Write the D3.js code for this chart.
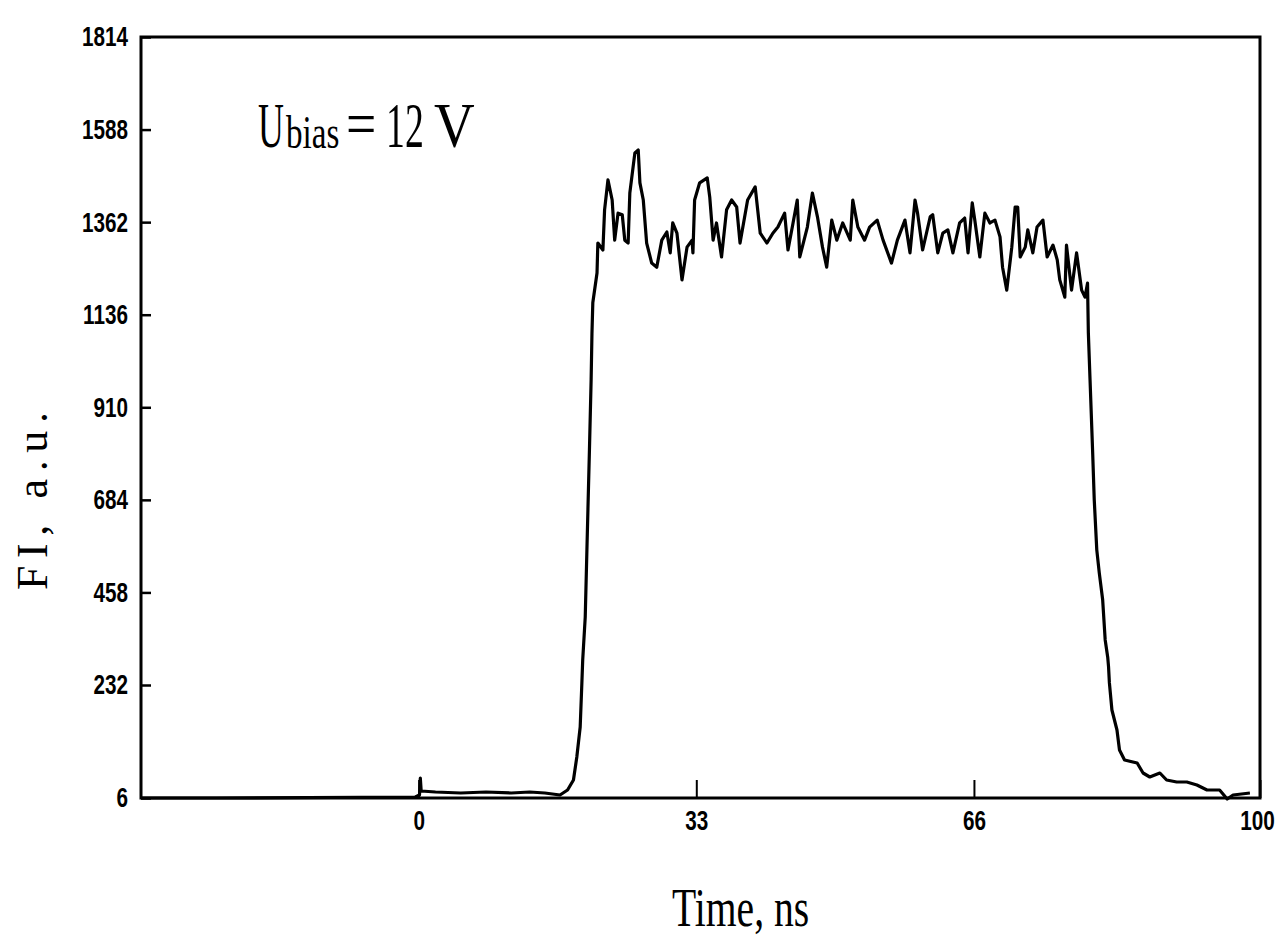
<!DOCTYPE html>
<html>
<head>
<meta charset="utf-8">
<script src="https://cdn.jsdelivr.net/npm/d3@7"></script>
<style>
  html, body { margin: 0; padding: 0; background: #fff; }
  svg { display: block; }
</style>
</head>
<body>
<svg id="chart" width="1276" height="939"></svg>
<script>
// ---- data ----
const times = [
  -33, -24, -0.4, 0.1, 0.2, 0.3, 2, 5, 8, 11, 13.2, 15, 16.8, 17.7, 18.4, 18.8, 19.2, 19.4, 19.5, 19.8,
  20.0, 20.3, 20.5, 20.6, 20.7, 21.2, 21.3, 21.9, 22.1, 22.5, 23.0, 23.3, 23.7, 24.2, 24.5, 24.9,
  25.1, 25.7, 26.1, 26.3, 26.7, 27.1, 27.7, 28.3, 28.9, 29.5, 29.9, 30.2, 30.7, 31.3, 31.9, 32.5,
  32.6, 32.8, 33.4, 34.3, 34.6, 35.0, 35.4, 36.0, 36.6, 37.2, 37.8, 38.2, 39.1, 40.0, 40.6, 41.4,
  42.1, 42.7, 43.5, 43.9, 44.5, 45.0, 45.3, 46.2, 46.8, 47.4, 48.0, 48.5, 49.1, 49.7, 50.4, 51.3,
  51.6, 52.2, 53.0, 53.6, 54.5, 55.2, 56.2, 56.9, 57.8, 58.4, 59.0, 59.3, 59.9, 60.8, 61.1, 61.7,
  62.3, 62.9, 63.5, 64.3, 64.9, 65.3, 65.8, 66.1, 66.7, 67.3, 67.9, 68.5, 69.1, 69.4, 69.9, 70.5,
  70.9, 71.2, 71.5, 72.1, 72.4, 73.0, 73.5, 74.2, 74.7, 75.4, 75.9, 76.2, 76.8, 77.0, 77.6, 78.2,
  78.8, 79.2, 79.5, 79.6, 79.8, 80.1, 80.3, 80.6, 80.9, 81.3, 81.6, 81.9, 82.0, 82.1, 82.4, 83.0,
  83.3, 83.9, 85.4, 86.1, 86.9, 88.1, 88.9, 90.1, 91.3, 92.5, 93.7, 95.2, 96.1, 96.8, 98.8
];
const values = [
  6, 6, 8, 12, 46, 20, 18, 16, 18, 16, 18, 16, 12, 22, 42, 88, 148, 237, 293, 398,
  562, 806, 977, 1091, 1165, 1238, 1311, 1294, 1392, 1465, 1416, 1318, 1384, 1380, 1318, 1311,
  1433, 1531, 1538, 1458, 1416, 1311, 1262, 1252, 1318, 1338, 1287, 1360, 1335, 1221, 1301, 1318,
  1287, 1416, 1458, 1470, 1423, 1318, 1360, 1277, 1392, 1416, 1399, 1311, 1416, 1448, 1335, 1311,
  1335, 1350, 1384, 1294, 1360, 1416, 1277, 1350, 1433, 1375, 1301, 1252, 1367, 1318, 1360, 1318,
  1416, 1350, 1318, 1350, 1367, 1318, 1262, 1318, 1367, 1287, 1416, 1384, 1294, 1375, 1380, 1287,
  1335, 1343, 1287, 1360, 1372, 1287, 1409, 1367, 1277, 1384, 1360, 1367, 1326, 1252, 1196, 1301,
  1399, 1399, 1277, 1301, 1343, 1287, 1350, 1367, 1277, 1306, 1270, 1221, 1179, 1306, 1196, 1287,
  1196, 1179, 1213, 1091, 977, 806, 684, 562, 505, 440, 342, 300, 276, 237, 182, 142,
  102, 82, 76, 56, 48, 56, 42, 38, 38, 32, 22, 22, 4, 12, 16
];
const xTickValues = [0, 33, 66, 100];
const yTickValues = [6, 232, 458, 684, 910, 1136, 1362, 1588, 1814];
const xTitle = "Time, ns";
const yTitle = "FI, a.u.";

// ---- drawing ----
const svg = d3.select("#chart");
const x = d3.scaleLinear().domain([-33, 100]).range([141, 1260]);
const y = d3.scaleLinear().domain([6, 232, 1814]).range([798, 685, 37]);

const tickFont = "'Liberation Sans', Arial, sans-serif";
const squeeze = 0.74;

// frame
svg.append("rect")
  .attr("x", x(-33)).attr("y", y(1814))
  .attr("width", x(100) - x(-33)).attr("height", y(6) - y(1814))
  .attr("fill", "none").attr("stroke", "#000").attr("stroke-width", 3);

// y axis
const yPad = 13;
const yAxis = svg.append("g")
  .attr("transform", `translate(${x(-33)},0)`)
  .call(d3.axisLeft(y).tickValues(yTickValues).tickSize(-10).tickPadding(yPad).tickFormat(d3.format("d")));
yAxis.select(".domain").remove();
yAxis.selectAll(".tick line").attr("stroke", "#000").attr("stroke-width", 2.5);
yAxis.selectAll(".tick text")
  .attr("font-family", tickFont).attr("font-weight", "bold").attr("font-size", 28).attr("fill", "#000")
  .attr("x", -yPad / squeeze)
  .attr("transform", `scale(${squeeze},1)`);

// x axis
const xAxis = svg.append("g")
  .attr("transform", `translate(0,${y(6)})`)
  .call(d3.axisBottom(x).tickValues(xTickValues).tickSize(-18).tickPadding(12).tickFormat(d3.format("d")));
xAxis.select(".domain").remove();
xAxis.selectAll(".tick line").attr("stroke", "#000").attr("stroke-width", 2);
xAxis.selectAll(".tick text")
  .attr("font-family", tickFont).attr("font-weight", "bold").attr("font-size", 28).attr("fill", "#000")
  .attr("x", d => d === 100 ? -3 / squeeze : 0)
  .attr("transform", `scale(${squeeze},1)`);

// data line
const pts = times.map((t, i) => [t, values[i]]);
svg.append("path")
  .datum(pts)
  .attr("fill", "none").attr("stroke", "#000").attr("stroke-width", 3.2)
  .attr("stroke-linejoin", "round")
  .attr("d", d3.line().x(d => x(d[0])).y(d => y(d[1])));

// titles
const serif = "'Liberation Serif', 'Times New Roman', serif";
svg.append("text")
  .attr("transform", "translate(672,926) scale(0.72,1)")
  .attr("font-family", serif).attr("font-size", 55)
  .text(xTitle);

svg.append("text")
  .attr("transform", "translate(47,590) rotate(-90)")
  .attr("font-family", serif).attr("font-size", 44)
  .attr("textLength", 178).attr("lengthAdjust", "spacing")
  .text(yTitle);

// annotation U_bias = 12 V
const ann = svg.append("g").attr("font-family", serif).attr("fill", "#000");
const annParts = [
  { s: "U", x: 258, y: 147, fs: 64, sx: 0.56 },
  { s: "bias", x: 286, y: 148, fs: 46, sx: 0.72 },
  { s: "=", x: 346, y: 145, fs: 64, sx: 0.84 },
  { s: "12", x: 386, y: 147, fs: 64, sx: 0.59 },
  { s: "V", x: 434, y: 147, fs: 64, sx: 0.88 }
];
ann.selectAll("text").data(annParts).join("text")
  .attr("transform", d => `translate(${d.x},${d.y}) scale(${d.sx},1)`)
  .attr("font-size", d => d.fs)
  .text(d => d.s);
</script>
</body>
</html>
